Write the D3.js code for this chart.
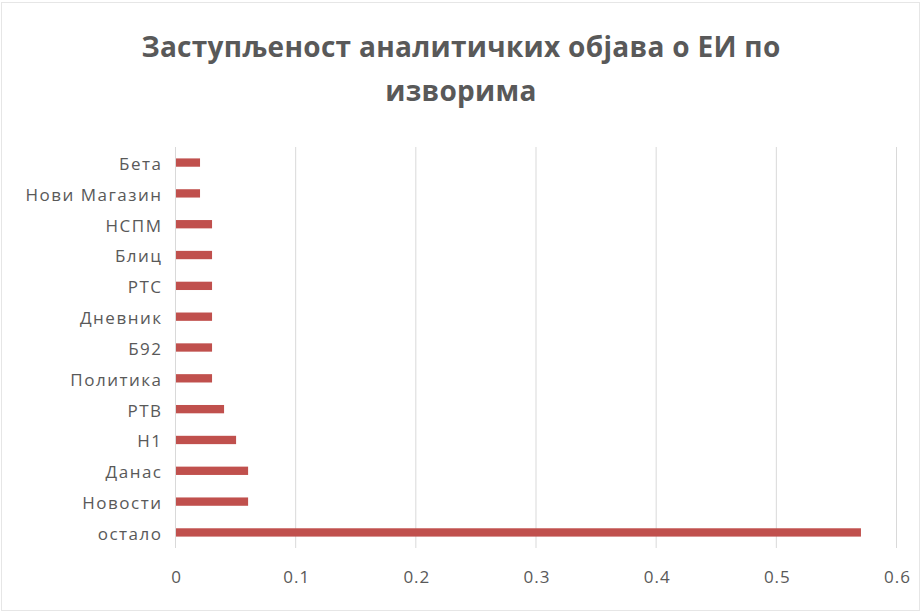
<!DOCTYPE html>
<html>
    <head>
        <meta charset="utf-8">
        <title>Заступљеност аналитичких објава о ЕИ по изворима</title>
        <script src="https://d3js.org/d3.v7.min.js"></script>
        <style>
            * {
                font-family: 'Open Sans', 'Noto Sans', sans-serif;
            }
            body {
                margin: 0;
                background: #ffffff;
                overflow: hidden;
            }
            svg {
                display: block;
            }
            .grid line {
                stroke: #d9d9d9;
                stroke-width: 1px;
            }
            .axis text {
                fill: #595959;
                font-size: 17px;
            }
            .y-axis text {
                letter-spacing: 1.5px;
            }
            .x-axis text {
                letter-spacing: 1px;
            }
        </style>
    </head>
    <body>
        <script>
            const title = ['Заступљеност аналитичких објава о ЕИ по', 'изворима'];
            const sources = ['Бета', 'Нови Магазин', 'НСПМ', 'Блиц', 'РТС', 'Дневник', 'Б92', 'Политика', 'РТВ', 'Н1', 'Данас', 'Новости', 'остало'];
            const shares = [0.02, 0.02, 0.03, 0.03, 0.03, 0.03, 0.03, 0.03, 0.04, 0.05, 0.06, 0.06, 0.57];
            const xTicks = [0, 0.1, 0.2, 0.3, 0.4, 0.5, 0.6];

            const width = 922;
            const height = 614;
            const margin = { top: 147, right: 26, bottom: 66, left: 175 };

            const svg = d3.select('body').append('svg').attr('width', width).attr('height', height);

            // faint outer frame
            svg.append('rect')
                .attr('x', 1.5)
                .attr('y', 2.5)
                .attr('width', width - 4)
                .attr('height', height - 6)
                .attr('fill', '#fff')
                .attr('stroke', '#e6e6e6');

            svg.append('text')
                .attr('x', width / 2)
                .attr('text-anchor', 'middle')
                .attr('fill', '#595959')
                .style('font-size', '28px')
                .style('font-weight', 'bold')
                .style('letter-spacing', '0.3px')
                .selectAll('tspan')
                .data(title)
                .enter()
                .append('tspan')
                .attr('x', width / 2)
                .attr('y', (d, i) => 57 + i * 44)
                .text((d) => d);

            const x = d3.scaleLinear().domain([0, 0.6]).range([margin.left, width - margin.right]);
            const y = d3.scaleBand().domain(sources).range([margin.top, height - margin.bottom]).paddingInner(0.73).paddingOuter(0.37);

            // vertical gridlines
            svg.append('g')
                .attr('class', 'grid')
                .selectAll('line')
                .data(xTicks)
                .enter()
                .append('line')
                .attr('x1', (d) => x(d) + 0.5)
                .attr('x2', (d) => x(d) + 0.5)
                .attr('y1', margin.top)
                .attr('y2', height - margin.bottom);

            svg.append('g')
                .selectAll('rect')
                .data(sources)
                .enter()
                .append('rect')
                .attr('x', x(0) + 1)
                .attr('y', (d) => y(d))
                .attr('width', (d, i) => x(shares[i]) - x(0))
                .attr('height', y.bandwidth())
                .attr('fill', '#c0504d');

            const xAxis = svg.append('g')
                .attr('class', 'axis x-axis')
                .attr('transform', `translate(1,${height - margin.bottom})`)
                .call(d3.axisBottom(x).tickValues(xTicks).tickFormat((d) => String(d)).tickSize(0).tickPadding(23));
            xAxis.select('.domain').remove();

            const yAxis = svg.append('g')
                .attr('class', 'axis y-axis')
                .attr('transform', `translate(${margin.left + 1.5},2)`)
                .call(d3.axisLeft(y).tickSize(0).tickPadding(14));
            yAxis.select('.domain').remove();
        </script>
    </body>
</html>
